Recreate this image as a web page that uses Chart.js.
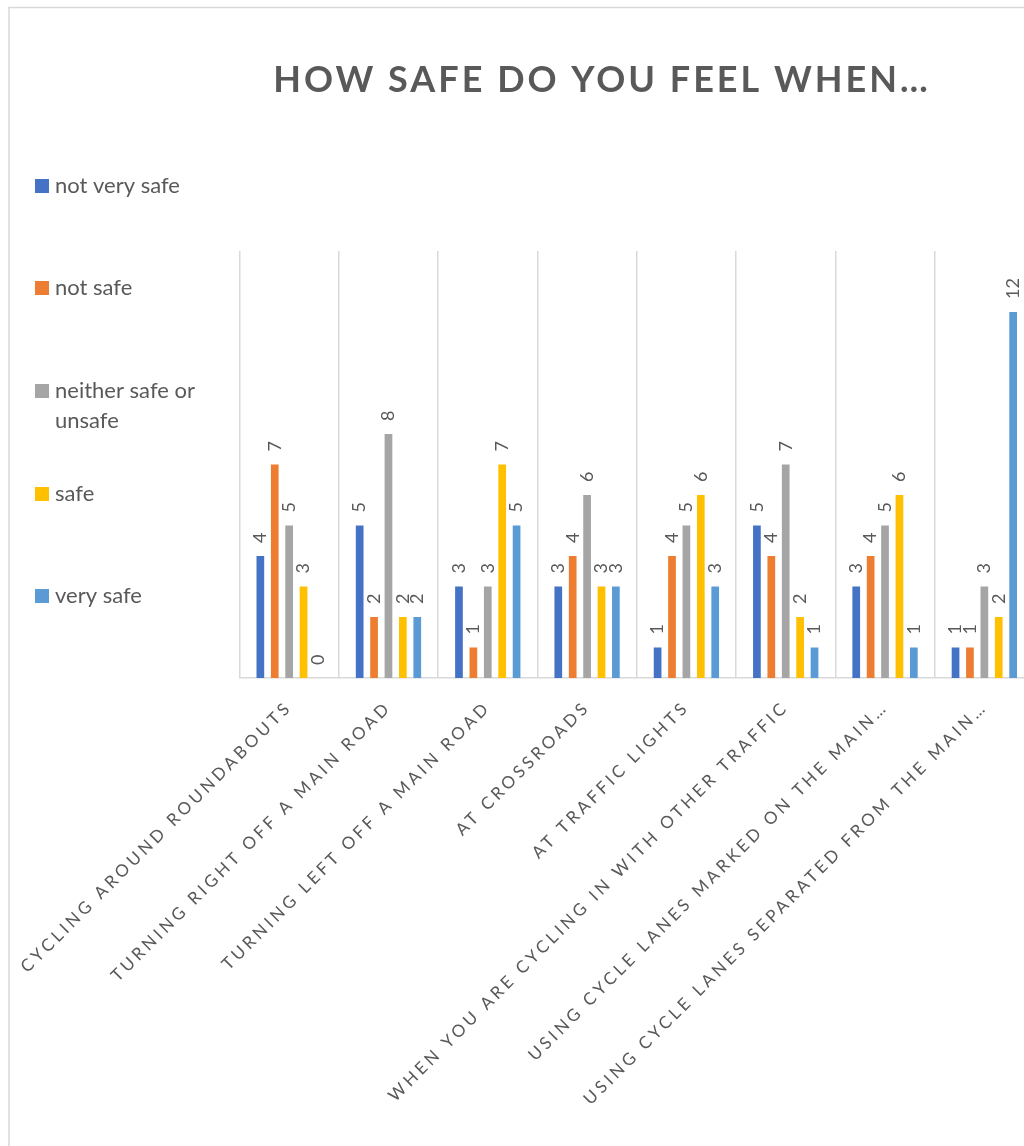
<!DOCTYPE html>
<html>
<head>
<meta charset="utf-8">
<script src="https://cdn.jsdelivr.net/npm/chart.js@4.4.1/dist/chart.umd.min.js"></script>
<style>
  html, body { margin: 0; padding: 0; background: #fff; overflow: hidden; }
  #wrap { width: 1200px; height: 1146px; }
</style>
</head>
<body>
<div id="wrap"><canvas id="chartSafety" width="1200" height="1146"></canvas></div>
<script>
const categories = [
  'CYCLING AROUND ROUNDABOUTS',
  'TURNING RIGHT OFF A MAIN ROAD',
  'TURNING LEFT OFF A MAIN ROAD',
  'AT CROSSROADS',
  'AT TRAFFIC LIGHTS',
  'WHEN YOU ARE CYCLING IN WITH OTHER TRAFFIC',
  'USING CYCLE LANES MARKED ON THE MAIN\u2026',
  'USING CYCLE LANES SEPARATED FROM THE MAIN\u2026'
];
const seriesNames = ['not very safe', 'not safe', 'neither safe or unsafe', 'safe', 'very safe'];
const seriesColors = ['#4472C4', '#ED7D31', '#A5A5A5', '#FFC000', '#5B9BD5'];
const notVerySafe = [4, 5, 3, 3, 1, 5, 3, 1];
const notSafe = [7, 2, 1, 4, 4, 4, 4, 1];
const neither = [5, 8, 3, 6, 5, 7, 5, 3];
const safe = [3, 2, 7, 3, 6, 2, 6, 2];
const verySafe = [0, 2, 5, 3, 3, 1, 1, 12];
const titleText = 'HOW SAFE DO YOU FEEL WHEN\u2026';

const seriesValues = [notVerySafe, notSafe, neither, safe, verySafe];
const textGray = '#595959';

// frame, title, legend and bar value labels
const decorations = {
  id: 'decorations',
  beforeDraw(chart) {
    const ctx = chart.ctx;
    ctx.save();
    ctx.strokeStyle = '#d9d9d9';
    ctx.lineWidth = 1.5;
    ctx.strokeRect(9, 7.5, 1184, 1200);

    ctx.fillStyle = textGray;
    ctx.font = 'bold 36px Lato';
    ctx.letterSpacing = '3px';
    ctx.textAlign = 'center';
    ctx.textBaseline = 'middle';
    ctx.fillText(titleText, 602, 80);

    ctx.letterSpacing = '0px';
    ctx.font = '22px Lato';
    ctx.textAlign = 'left';
    const legendY = [186, 288, 391, 494, 596];
    seriesNames.forEach((name, i) => {
      ctx.fillStyle = seriesColors[i];
      ctx.fillRect(35, legendY[i] - 7, 14, 14);
      ctx.fillStyle = textGray;
      if (name === 'neither safe or unsafe') {
        ctx.fillText('neither safe or', 55, legendY[i]);
        ctx.fillText('unsafe', 55, legendY[i] + 30);
      } else {
        ctx.fillText(name, 55, legendY[i]);
      }
    });
    ctx.restore();
    // spaced caps for the category labels
    ctx.letterSpacing = '3.5px';
  },
  afterDatasetsDraw(chart) {
    const ctx = chart.ctx;
    ctx.save();
    ctx.letterSpacing = '0px';
    ctx.font = '18px Lato';
    ctx.fillStyle = textGray;
    ctx.textAlign = 'left';
    ctx.textBaseline = 'middle';
    chart.data.datasets.forEach((ds, i) => {
      chart.getDatasetMeta(i).data.forEach((bar, j) => {
        ctx.save();
        ctx.translate(bar.x, bar.y - 13);
        ctx.rotate(-Math.PI / 2);
        ctx.fillText(String(ds.data[j]), 0, 0);
        ctx.restore();
      });
    });
    ctx.restore();
  }
};

new Chart(document.getElementById('chartSafety'), {
  type: 'bar',
  data: {
    labels: categories,
    datasets: seriesNames.map((name, i) => ({
      label: name,
      data: seriesValues[i],
      backgroundColor: seriesColors[i],
      categoryPercentage: 0.725,
      barPercentage: 0.535
    }))
  },
  options: {
    responsive: false,
    animation: false,
    layout: { padding: { left: 239.5, top: 251, right: 166, bottom: 0 } },
    plugins: {
      legend: { display: false },
      title: { display: false },
      tooltip: { enabled: false }
    },
    scales: {
      x: {
        grid: { color: '#d9d9d9', lineWidth: 1.5, offset: true, drawTicks: false },
        border: { color: '#d9d9d9', width: 1.5 },
        ticks: {
          color: textGray,
          font: { family: 'Lato', size: 17 },
          minRotation: 45,
          maxRotation: 45,
          autoSkip: false,
          padding: 19
        },
        afterFit(scale) { scale.height = 468; }
      },
      y: {
        display: false,
        min: 0,
        max: 14
      }
    }
  },
  plugins: [decorations]
});
</script>
</body>
</html>
